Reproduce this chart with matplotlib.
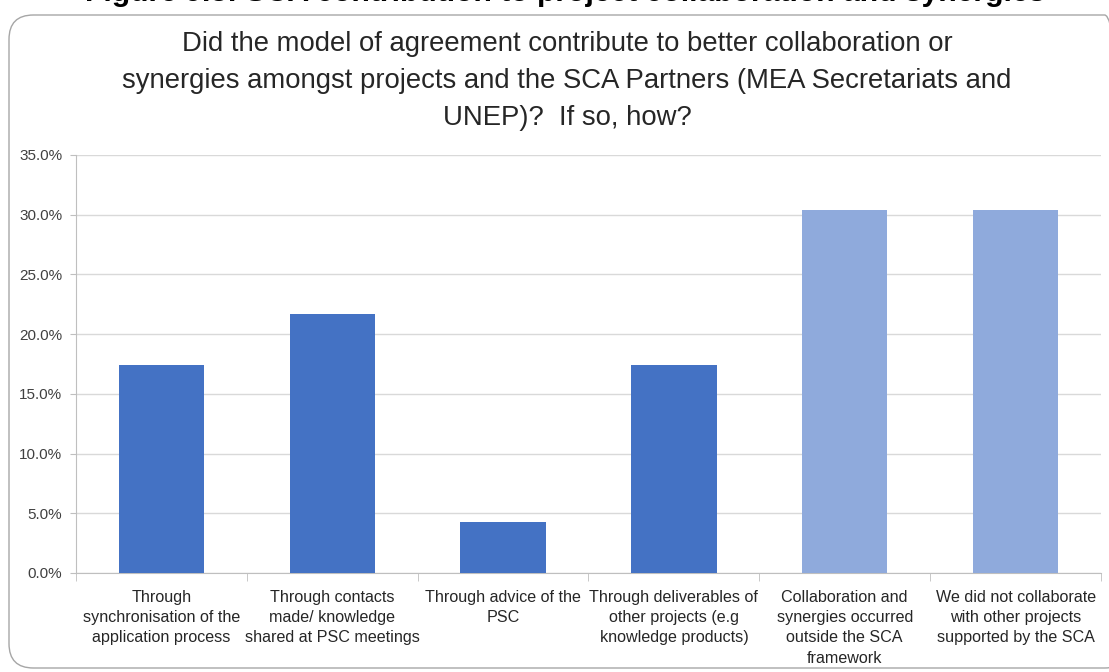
import matplotlib
matplotlib.use("Agg")
import matplotlib.pyplot as plt
from matplotlib.patches import FancyBboxPatch
from matplotlib.ticker import FuncFormatter

categories = [
    "Through\nsynchronisation of the\napplication process",
    "Through contacts\nmade/ knowledge\nshared at PSC meetings",
    "Through advice of the\nPSC",
    "Through deliverables of\nother projects (e.g\nknowledge products)",
    "Collaboration and\nsynergies occurred\noutside the SCA\nframework",
    "We did not collaborate\nwith other projects\nsupported by the SCA",
]
shares = [17.4, 21.7, 4.3, 17.4, 30.4, 30.4]
bar_colors = ["#4472C4", "#4472C4", "#4472C4", "#4472C4", "#8FAADC", "#8FAADC"]
yticks = [0, 5, 10, 15, 20, 25, 30, 35]

heading = "Figure 9.8: SCA contribution to project collaboration and synergies"
title = ("Did the model of agreement contribute to better collaboration or\n"
         "synergies amongst projects and the SCA Partners (MEA Secretariats and\n"
         "UNEP)?  If so, how?")

W, H = 1109, 672
fig = plt.figure(figsize=(W / 100, H / 100), dpi=100)
plt.rcParams["font.family"] = ["Liberation Sans", "DejaVu Sans"]

# rounded chart frame
frame = FancyBboxPatch((9 / W, 4 / H), (W + 20) / W - 9 / W, (H - 15) / H - 4 / H,
                       boxstyle="round,pad=0,rounding_size=0.022",
                       transform=fig.transFigure, fill=False,
                       edgecolor="#A6A6A6", linewidth=1.0, mutation_aspect=W / H)
fig.patches.append(frame)

# document heading, partly clipped at the top edge
fig.text(565 / W, 1 - 1 / H, heading, ha="center", va="baseline",
         fontsize=21.7, fontweight="bold", color="black")

fig.text(567 / W, 1 - 81 / H, title, ha="center", va="center",
         fontsize=19.8, color="#262626", linespacing=1.55)

ax = fig.add_axes([76 / W, 1 - 573 / H, (1101 - 76) / W, (573 - 155) / H])
x = range(len(categories))
ax.bar(x, shares, width=0.5, color=bar_colors, zorder=3)

ax.set_xlim(-0.5, len(categories) - 0.5)
ax.set_ylim(0, 35)
ax.set_yticks(yticks)
ax.yaxis.set_major_formatter(FuncFormatter(lambda v, _: f"{v:.1f}%"))
ax.grid(True, axis="y", color="#D9D9D9", linewidth=1.0, zorder=0)
ax.tick_params(axis="y", length=4, color="#BFBFBF", labelsize=11,
               labelcolor="#404040", pad=6)

ax.set_xticks(x)
ax.set_xticklabels(categories, fontsize=11.6, color="#262626", linespacing=1.45)
ax.tick_params(axis="x", length=0, pad=12)
ax.set_xticks([i - 0.5 for i in range(len(categories) + 1)], minor=True)
ax.tick_params(axis="x", which="minor", length=6, color="#BFBFBF")

for side in ["top", "right"]:
    ax.spines[side].set_visible(False)
ax.spines["left"].set_color("#BFBFBF")
ax.spines["bottom"].set_color("#BFBFBF")

fig.savefig("out.png", dpi=100)
